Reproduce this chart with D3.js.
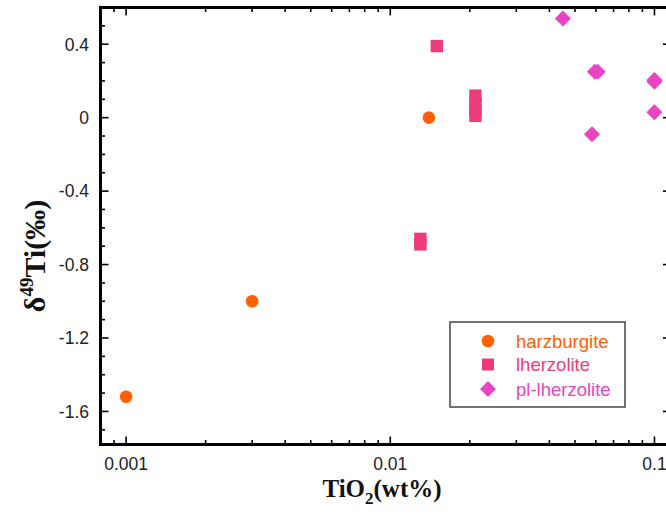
<!DOCTYPE html>
<html><head><meta charset="utf-8">
<script src="https://cdn.jsdelivr.net/npm/d3@7"></script>
<style>body{margin:0;background:#fff;}svg{display:block;}</style>
</head><body>
<script>
// data
const categories = ["harzburgite", "lherzolite", "pl-lherzolite"];
const harzTiO2 = [0.001, 0.003, 0.014];
const harzD49 = [-1.52, -1.0, 0.0];
const lherzTiO2 = [0.015, 0.021, 0.021, 0.021, 0.021, 0.013, 0.013];
const lherzD49 = [0.39, 0.12, 0.08, 0.04, 0.01, -0.66, -0.69];
const plTiO2 = [0.045, 0.0595, 0.061, 0.1, 0.1, 0.1, 0.058];
const plD49 = [0.54, 0.25, 0.25, 0.205, 0.195, 0.03, -0.09];
const yTickLabels = ["0.4", "0", "-0.4", "-0.8", "-1.2", "-1.6"];
const xTickLabels = ["0.001", "0.01", "0.1"];

const W = 666, H = 515;
const colors = {"harzburgite": "#FF6000", "lherzolite": "#EC3C7C", "pl-lherzolite": "#E944C2"};

const svg = d3.select("body").append("svg").attr("width", W).attr("height", H);
const x = d3.scaleLog().domain([0.0008, 0.1155]).range([100.5, 671]);
const y = d3.scaleLinear().domain([-1.78, 0.6]).range([444.5, 7.5]);
const L = 100.5, R = 671, T = 7.5, B = 444.5;

// frame
svg.append("rect").attr("x", L).attr("y", T).attr("width", R - L).attr("height", B - T)
  .attr("fill", "none").attr("stroke", "#000").attr("stroke-width", 3);

// x ticks
const xt = x.ticks().filter(v => v > x.domain()[0] && v < x.domain()[1]);
const isMajor = v => Math.abs(Math.log10(v) - Math.round(Math.log10(v))) < 1e-6;
const g = svg.append("g").attr("stroke", "#000").attr("stroke-width", 1.6);
xt.forEach(v => {
  const len = isMajor(v) ? 8 : 4.5;
  g.append("line").attr("x1", x(v)).attr("x2", x(v)).attr("y1", B).attr("y2", B - len);
  g.append("line").attr("x1", x(v)).attr("x2", x(v)).attr("y1", T).attr("y2", T + len);
});
// y ticks
const yt = d3.range(-17, 7).map(d => d / 10);
yt.forEach(v => {
  const major = Math.abs(Math.round(v * 10)) % 4 === 0;
  const len = major ? 8 : 4.5;
  g.append("line").attr("x1", L).attr("x2", L + len).attr("y1", y(v)).attr("y2", y(v));
  g.append("line").attr("x1", R).attr("x2", R - len).attr("y1", y(v)).attr("y2", y(v));
});

// tick labels
const font = "'Liberation Sans', Arial, sans-serif";
svg.append("g").selectAll("text").data(xTickLabels).join("text")
  .attr("x", d => x(+d)).attr("y", 470).attr("text-anchor", "middle")
  .attr("font-family", font).attr("font-size", 17.5).attr("fill", "#222").text(d => d);
svg.append("g").selectAll("text").data(yTickLabels).join("text")
  .attr("x", 89).attr("y", d => y(+d)).attr("dy", "0.36em").attr("text-anchor", "end")
  .attr("font-family", font).attr("font-size", 17.5).attr("fill", "#222").text(d => d);

// axis titles
const serif = "'Liberation Serif', 'Times New Roman', serif";
const xl = svg.append("text").attr("x", 382).attr("y", 497).attr("text-anchor", "middle")
  .attr("font-family", serif).attr("font-weight", "bold").attr("font-size", 25).attr("fill", "#111");
xl.append("tspan").text("TiO");
xl.append("tspan").attr("font-size", 17).attr("dy", 7).text("2");
xl.append("tspan").attr("dy", -7).text("(wt%)");

const yl = svg.append("text").attr("transform", "translate(45,256) rotate(-90)").attr("text-anchor", "middle")
  .attr("font-family", serif).attr("font-weight", "bold").attr("font-size", 30).attr("fill", "#111");
yl.append("tspan").text("δ");
yl.append("tspan").attr("font-size", 19).attr("dy", -12).text("49");
yl.append("tspan").attr("dy", 12).text("Ti(‰)");

// marks
svg.append("clipPath").attr("id", "clip").append("rect").attr("x", L).attr("y", T).attr("width", R - L).attr("height", B - T);
const marks = svg.append("g").attr("clip-path", "url(#clip)");
const diamond = (cx, cy, r) => `M${cx},${cy - r}L${cx + r},${cy}L${cx},${cy + r}L${cx - r},${cy}Z`;

marks.selectAll("circle.h").data(d3.zip(harzTiO2, harzD49)).join("circle")
  .attr("cx", d => x(d[0])).attr("cy", d => y(d[1])).attr("r", 6.3).attr("fill", colors["harzburgite"]);
marks.selectAll("rect.l").data(d3.zip(lherzTiO2, lherzD49)).join("rect")
  .attr("x", d => x(d[0]) - 6.2).attr("y", d => y(d[1]) - 6.2).attr("width", 12.4).attr("height", 12.4)
  .attr("fill", colors["lherzolite"]);
marks.selectAll("path.p").data(d3.zip(plTiO2, plD49)).join("path")
  .attr("d", d => diamond(x(d[0]), y(d[1]), 8)).attr("fill", colors["pl-lherzolite"]);

// legend
const lg = svg.append("g");
lg.append("rect").attr("x", 450).attr("y", 322).attr("width", 175).attr("height", 85)
  .attr("fill", "#fff").attr("stroke", "#444").attr("stroke-width", 1.5);
const rows = [341, 364.5, 389];
categories.forEach((c, i) => {
  const cy = rows[i];
  if (i === 0) lg.append("circle").attr("cx", 488).attr("cy", cy).attr("r", 6.3).attr("fill", colors[c]);
  if (i === 1) lg.append("rect").attr("x", 488 - 6).attr("y", cy - 6).attr("width", 12).attr("height", 12).attr("fill", colors[c]);
  if (i === 2) lg.append("path").attr("d", diamond(488, cy, 8)).attr("fill", colors[c]);
  lg.append("text").attr("x", 516).attr("y", cy).attr("dy", "0.36em").attr("font-family", font)
    .attr("font-size", 18.5).attr("fill", colors[c]).text(c);
});
</script>
</body></html>
